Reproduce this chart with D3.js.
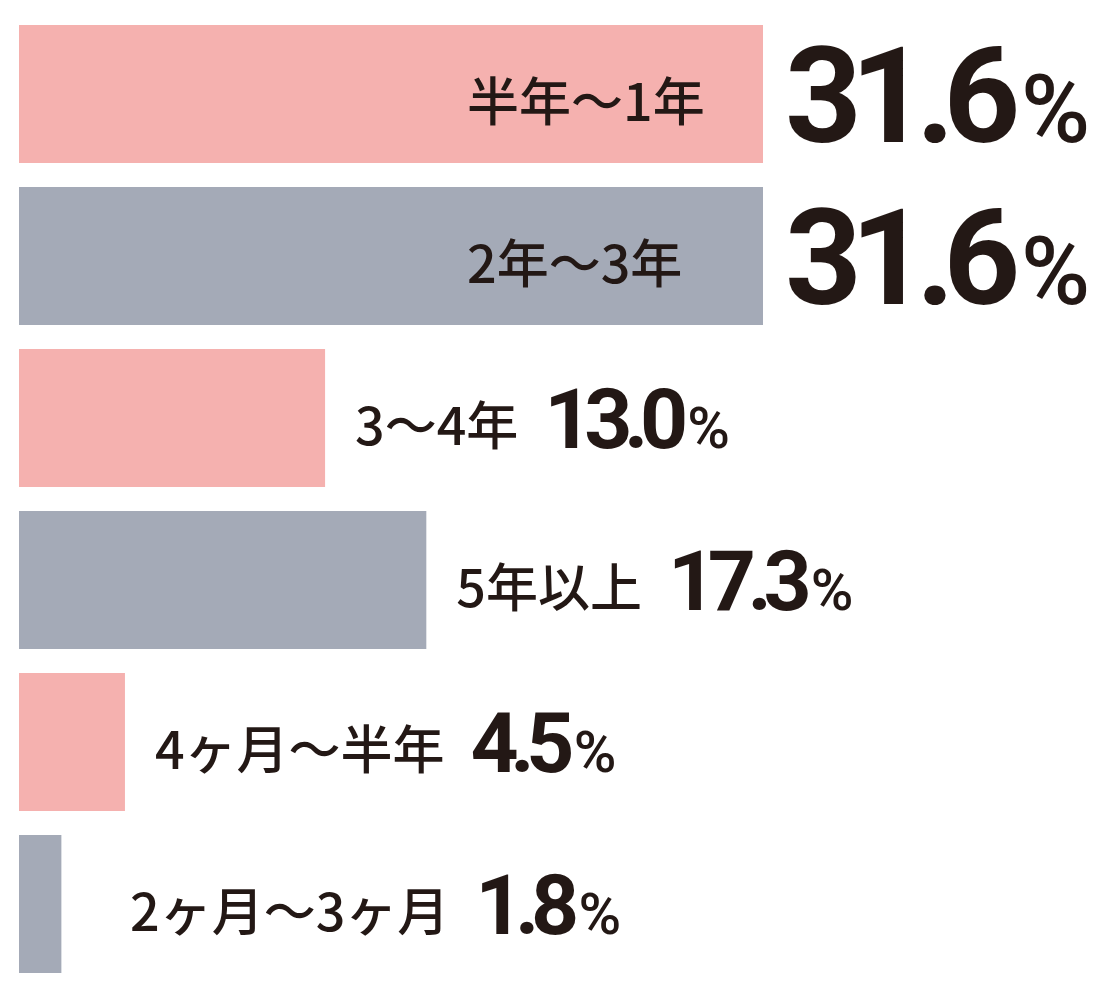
<!DOCTYPE html>
<html>
<head>
<meta charset="utf-8">
<script src="https://cdn.jsdelivr.net/npm/d3@7"></script>
<style>
html,body{margin:0;padding:0;background:#fff;}
svg{display:block;}
</style>
</head>
<body>
<svg id="chart" width="1100" height="990"></svg>
<script>
const categories = ["半年〜1年", "2年〜3年", "3〜4年", "5年以上", "4ヶ月〜半年", "2ヶ月〜3ヶ月"];
const values = [31.6, 31.6, 13.0, 17.3, 4.5, 1.8];
const colors = ["#f5b1af", "#a4aab7", "#f5b1af", "#a4aab7", "#f5b1af", "#a4aab7"];

const svg = d3.select("#chart");
const textColor = "#231815";
const left = 19;

const x = d3.scaleLinear().domain([0, 31.6]).range([left, 763]);
const y = d3.scaleBand().domain(d3.range(categories.length)).range([25, 973]).paddingInner(24/162).paddingOuter(0);

const data = categories.map((c, i) => ({c, v: values[i], color: colors[i], i}));

svg.selectAll("rect.bar").data(data).join("rect")
  .attr("class", "bar")
  .attr("x", x(0))
  .attr("y", d => y(d.i))
  .attr("width", d => x(d.v) - x(0))
  .attr("height", y.bandwidth())
  .attr("fill", d => d.color);

data.forEach(d => {
  const cy = y(d.i) + y.bandwidth() / 2;
  const big = d.v >= 20;
  const labelX = big ? 467 : Math.max(x(d.v) + 30, 130);
  const lab = svg.append("text")
    .attr("x", labelX)
    .attr("y", cy + 27)
    .attr("font-family", "'Noto Sans CJK JP', 'Noto Sans', sans-serif")
    .attr("font-weight", 500)
    .attr("font-size", 52)
    .attr("fill", textColor)
    .text(d.c);
  let vx;
  if (big) {
    vx = x(d.v) + 22;
  } else {
    vx = labelX + lab.node().getComputedTextLength() + 26;
  }
  const numSize = big ? 134 : 84;
  const pctSize = big ? 94 : 58;
  const t = svg.append("text")
    .attr("x", vx)
    .attr("y", cy + numSize * 0.355)
    .attr("fill", textColor)
    .attr("font-family", "Roboto, 'Open Sans', sans-serif");
  t.append("tspan")
    .attr("font-weight", 700)
    .attr("font-size", numSize)
    .attr("letter-spacing", -numSize * (big ? 0.085 : 0.1))
    .text(d3.format(".1f")(d.v));
  t.append("tspan")
    .attr("dx", numSize * 0.09)
    .attr("font-weight", 500)
    .attr("font-size", pctSize)
    .text("%");
});
</script>
</body>
</html>
